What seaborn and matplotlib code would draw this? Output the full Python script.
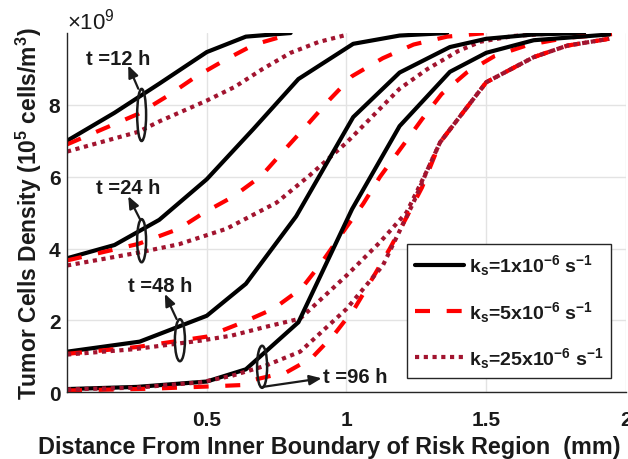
import numpy as np
import pandas as pd
import seaborn as sns
import matplotlib
matplotlib.use("Agg")
import matplotlib.pyplot as plt
from matplotlib.lines import Line2D
from matplotlib.patches import Ellipse
from matplotlib.ticker import ScalarFormatter

# ---------------- data (y in units of 1e9 cells/m^3) ----------------
x_t12_k1 = [0, 0.17, 0.33, 0.5, 0.64, 0.8]
y_t12_k1 = [7.0, 7.78, 8.59, 9.47, 9.9, 10.0]
x_t12_k5 = [0, 0.255, 0.36, 0.46, 0.565, 0.67, 0.8]
y_t12_k5 = [6.9, 7.75, 8.25, 8.78, 9.25, 9.68, 9.97]
x_t12_k25 = [0, 0.255, 0.333, 0.5, 0.6, 0.7, 0.8, 0.9, 1.0]
y_t12_k25 = [6.7, 7.25, 7.55, 8.12, 8.5, 9.0, 9.45, 9.75, 9.95]

x_t24_k1 = [0, 0.17, 0.33, 0.5, 0.667, 0.828, 1.024, 1.19, 1.36]
y_t24_k1 = [3.73, 4.1, 4.8, 5.93, 7.33, 8.72, 9.7, 9.93, 10.0]
x_t24_k5 = [0, 0.255, 0.4, 0.49, 0.595, 0.695, 0.775, 0.86, 0.94, 1.02, 1.13, 1.24, 1.36, 1.5]
y_t24_k5 = [3.67, 4.13, 4.55, 5.0, 5.45, 6.02, 6.72, 7.45, 8.15, 8.8, 9.3, 9.68, 9.9, 10.0]
x_t24_k25 = [0, 0.25, 0.4, 0.57, 0.75, 0.87, 1.0, 1.07, 1.19, 1.29, 1.4, 1.48, 1.6, 1.72]
y_t24_k25 = [3.53, 3.88, 4.12, 4.55, 5.28, 6.05, 6.95, 7.5, 8.45, 9.0, 9.5, 9.76, 9.92, 9.98]

x_t48_k1 = [0, 0.26, 0.5, 0.64, 0.82, 1.024, 1.19, 1.37, 1.5, 1.67, 1.85]
y_t48_k1 = [1.13, 1.41, 2.13, 3.02, 4.9, 7.66, 8.9, 9.61, 9.84, 9.96, 10.0]
x_t48_k5 = [0, 0.25, 0.5, 0.63, 0.74, 0.84, 0.91, 1.0, 1.06, 1.12, 1.2, 1.27, 1.34, 1.43, 1.53, 1.65, 1.79, 1.95]
y_t48_k5 = [1.07, 1.26, 1.55, 1.95, 2.33, 2.9, 3.6, 4.6, 5.25, 6.0, 6.85, 7.6, 8.3, 8.9, 9.36, 9.67, 9.87, 9.97]
x_t48_k25 = [0, 0.24, 0.48, 0.59, 0.71, 0.834, 1.0, 1.12, 1.215, 1.29, 1.335, 1.5, 1.67, 1.79, 1.94]
y_t48_k25 = [1.05, 1.2, 1.44, 1.58, 1.82, 2.05, 3.25, 4.18, 5.01, 6.2, 6.96, 8.63, 9.33, 9.65, 9.84]

x_t96_k1 = [0, 0.25, 0.5, 0.64, 0.828, 1.02, 1.19, 1.37, 1.5, 1.67, 1.94]
y_t96_k1 = [0.09, 0.15, 0.3, 0.64, 1.95, 5.1, 7.41, 8.92, 9.45, 9.8, 9.96]
x_t96_k5 = [0, 0.3, 0.5, 0.62, 0.67, 0.786, 0.875, 0.955, 1.03, 1.095, 1.155, 1.21, 1.27, 1.335, 1.5, 1.67, 1.79, 1.94]
y_t96_k5 = [0.05, 0.1, 0.16, 0.2, 0.35, 0.56, 0.95, 1.6, 2.35, 3.2, 4.0, 4.8, 5.7, 6.96, 8.63, 9.33, 9.65, 9.84]
x_t96_k25 = [0, 0.25, 0.48, 0.59, 0.71, 0.834, 1.0, 1.13, 1.24, 1.29, 1.335, 1.5, 1.67, 1.79, 1.94]
y_t96_k25 = [0.08, 0.13, 0.28, 0.46, 0.74, 1.13, 2.32, 3.53, 5.29, 6.2, 6.96, 8.63, 9.33, 9.65, 9.84]

legend_labels = [r'k$_{\mathbf{s}}$=1x10$^{\mathbf{-6}}$ s$^{\mathbf{-1}}$',
                 r'k$_{\mathbf{s}}$=5x10$^{\mathbf{-6}}$ s$^{\mathbf{-1}}$',
                 r'k$_{\mathbf{s}}$=25x10$^{\mathbf{-6}}$ s$^{\mathbf{-1}}$']
time_labels = ['t =12 h', 't =24 h', 't =48 h', 't =96 h']
x_ticks = [0.5, 1, 1.5, 2]
x_tick_labels = ['0.5', '1', '1.5', '2']
y_ticks = [0, 2, 4, 6, 8]

# ---------------- style ----------------
sns.set_theme(style="whitegrid")
plt.rcParams['font.family'] = ['Liberation Sans', 'DejaVu Sans']
plt.rcParams['mathtext.fontset'] = 'custom'
plt.rcParams['mathtext.rm'] = 'Liberation Sans'
plt.rcParams['mathtext.bf'] = 'Liberation Sans:bold'
plt.rcParams['mathtext.it'] = 'Liberation Sans:italic'
plt.rcParams['mathtext.sf'] = 'Liberation Sans'

C_BLACK = '#000000'
C_RED = '#ff0000'
C_PURPLE = '#a2142f'
TXT = '#1a1a1a'
LW = 3.0
styles = {
    'k1': dict(color=C_BLACK, linestyle='-', lw=LW),
    'k5': dict(color=C_RED, linestyle=(0, (3.6, 4.0)), lw=LW),
    'k25': dict(color=C_PURPLE, linestyle=(0, (1.0, 1.1)), lw=LW),
}

fig = plt.figure(figsize=(6.28, 4.6), dpi=100)
ax = fig.add_axes([0.1067, 0.145, 0.8901, 0.781])

series = [
    (x_t12_k1, y_t12_k1, 'k1'), (x_t12_k5, y_t12_k5, 'k5'), (x_t12_k25, y_t12_k25, 'k25'),
    (x_t24_k1, y_t24_k1, 'k1'), (x_t24_k5, y_t24_k5, 'k5'), (x_t24_k25, y_t24_k25, 'k25'),
    (x_t48_k1, y_t48_k1, 'k1'), (x_t48_k5, y_t48_k5, 'k5'), (x_t48_k25, y_t48_k25, 'k25'),
    (x_t96_k1, y_t96_k1, 'k1'), (x_t96_k5, y_t96_k5, 'k5'), (x_t96_k25, y_t96_k25, 'k25'),
]
for xs, ys, k in series:
    df = pd.DataFrame({'x': xs, 'y': np.array(ys) * 1e9})
    sns.lineplot(data=df, x='x', y='y', ax=ax, legend=False, sort=False,
                 estimator=None, **styles[k])

ax.set_xlim(0, 2)
ax.set_ylim(0, 10e9)
ax.set_xticks(x_ticks)
ax.set_xticklabels(x_tick_labels)
ax.set_yticks(np.array(y_ticks) * 1e9)
fmt = ScalarFormatter(useMathText=True)
fmt.set_powerlimits((0, 0))
ax.yaxis.set_major_formatter(fmt)
ax.yaxis.get_offset_text().set_fontsize(16)
ax.yaxis.get_offset_text().set_color(TXT)

ax.grid(True, color='#e3e3e3', lw=1.0)
for s in ['top', 'right']:
    ax.spines[s].set_visible(False)
for s in ['left', 'bottom']:
    ax.spines[s].set_color('#262626')
    ax.spines[s].set_linewidth(1.0)
ax.tick_params(direction='in', length=5, width=0.8, color='#262626',
               labelsize=15, labelcolor=TXT)
ax.tick_params(axis='x', pad=13)
ax.tick_params(axis='y', pad=4)
for lab in ax.get_xticklabels() + ax.get_yticklabels():
    lab.set_fontweight('bold')

ax.set_xlabel('Distance From Inner Boundary of Risk Region  (mm)',
              fontsize=16.8, fontweight='bold', color=TXT, labelpad=3)
ax.xaxis.set_label_coords(0.47, -0.12)
ax.set_ylabel(r'Tumor Cells Density (10$^{\mathbf{5}}$ cells/m$^{\mathbf{3}}$)',
              fontsize=16.5, fontweight='bold', color=TXT, labelpad=3)

# ---------------- annotations ----------------
ell_specs = [  # center x, center y (1e9), width, height (1e9)
    (0.267, 7.72, 0.032, 1.45),
    (0.267, 4.22, 0.032, 1.2),
    (0.404, 1.45, 0.036, 1.17),
    (0.698, 0.71, 0.036, 1.17),
]
for cx, cy, w, h in ell_specs:
    ax.add_patch(Ellipse((cx, cy * 1e9), w, h * 1e9, fill=False, ec='k', lw=1.8, zorder=5))

arrow_specs = [  # start, tip
    ((0.255, 8.45), (0.219, 9.1)),
    ((0.261, 4.82), (0.219, 5.46)),
    ((0.392, 2.04), (0.35, 2.74)),
    ((0.70, 0.15), (0.911, 0.39)),
]
for (sx, sy), (tx, ty) in arrow_specs:
    ax.annotate('', xy=(tx, ty * 1e9), xytext=(sx, sy * 1e9),
                arrowprops=dict(arrowstyle='-|>,head_length=0.6,head_width=0.25',
                                color='k', lw=1.6, shrinkA=0, shrinkB=0), zorder=6)

text_specs = [(0.184, 9.28, 'center'), (0.22, 5.7, 'center'), (0.334, 2.97, 'center'), (0.916, 0.44, 'left')]
for (tx, ty, ha), lab in zip(text_specs, time_labels):
    ax.text(tx, ty * 1e9, lab, ha=ha, va='center', fontsize=14.5, fontweight='bold', color=TXT, zorder=7)

# ---------------- legend ----------------
handles = [Line2D([], [], **styles[k]) for k in ['k1', 'k5', 'k25']]
leg = ax.legend(handles, legend_labels, loc='upper left', bbox_to_anchor=(0.608, 0.412),
                prop={'size': 14, 'weight': 'bold'}, frameon=True, fancybox=False,
                edgecolor='#262626', framealpha=1, borderaxespad=0,
                handlelength=2.5, handletextpad=0.25, labelspacing=1.1, borderpad=0.42)
leg.get_frame().set_linewidth(1.0)
for t in leg.get_texts():
    t.set_color(TXT)

fig.savefig('out.png', dpi=100)
